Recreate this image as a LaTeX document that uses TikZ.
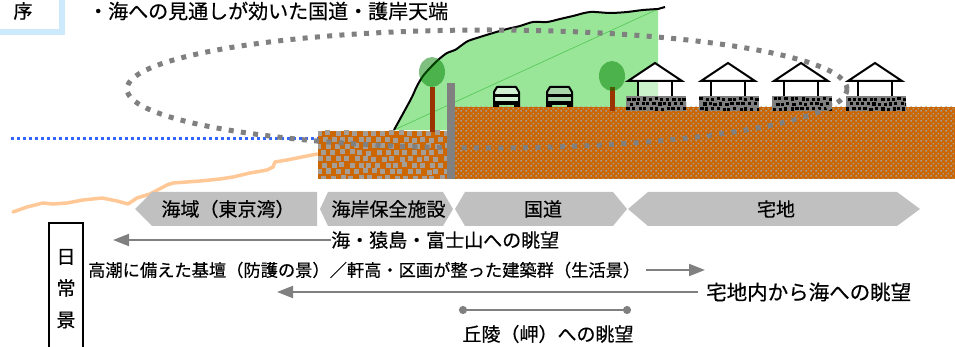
\documentclass[tikz,border=0pt]{standalone}
\usepackage{fontspec}
\setmainfont{Noto Sans CJK JP}
\newfontfamily\jpfont{Noto Sans CJK JP}[FakeBold=0.5]
\usepackage{tikz}
\usetikzlibrary{arrows.meta, positioning, patterns}
\usepackage{xcolor}
\definecolor{seablue}{RGB}{51, 102, 255}
\definecolor{shoreline}{RGB}{255, 200, 150}
\definecolor{soil}{RGB}{204, 102, 0}
\definecolor{cobble}{RGB}{165, 158, 150}
\definecolor{hillgreen}{RGB}{153, 230, 153}
\definecolor{hillline}{RGB}{90, 200, 90}
\definecolor{leafgreen}{RGB}{0, 127, 0}
\definecolor{trunkbrown}{RGB}{153, 51, 0}
\definecolor{wallgray}{RGB}{128, 128, 128}
\definecolor{stonegray}{RGB}{128, 128, 128}
\definecolor{bandgray}{RGB}{192, 192, 192}
\definecolor{frameblue}{RGB}{204, 234, 252}
\definecolor{carpale}{RGB}{210, 240, 210}
\definecolor{carshade}{RGB}{170, 212, 170}

% fine dots on the ground
\pgfdeclarepatternformonly{soildots}{\pgfqpoint{0pt}{0pt}}{\pgfqpoint{5pt}{5pt}}{\pgfqpoint{5pt}{5pt}}{
  \pgfpathrectangle{\pgfqpoint{0.5pt}{0.5pt}}{\pgfqpoint{1.6pt}{1.6pt}}
  \pgfpathrectangle{\pgfqpoint{3pt}{3pt}}{\pgfqpoint{1.6pt}{1.6pt}}
  \pgfusepath{fill}}

\begin{document}
\begin{tikzpicture}[x=1pt, y=-1pt,
    jtext/.style={font=\jpfont\fontsize{19}{19}\selectfont, inner sep=0pt},
    zoneband/.style={fill=bandgray},
    viewarrow/.style={draw=wallgray, line width=2pt, -{Triangle[length=16pt, width=12pt]}},
    viewloop/.style={draw=wallgray, line width=5pt, dash pattern=on 5pt off 7.3pt},
    ridge/.style={draw=black, line width=2pt, line join=round}]
    \useasboundingbox (0,0) rectangle (955,347);
    \clip (0,0) rectangle (955,347);

    % Heading
    \draw[frameblue, line width=6pt] (-10,-10) rectangle (62,32);
    \node[jtext] (jo) at (23,11) {序};
    \node[jtext, font=\jpfont\fontsize{20}{20}\selectfont, anchor=west] (title) at (88,11) {・海への見通しが効いた国道・護岸天端};

    % Sea level and sea bottom
    \draw[seablue, line width=3pt, dash pattern=on 3pt off 3pt] (11,139) -- (318,139);
    \draw[shoreline, line width=3.5pt, line join=round, line cap=round] plot coordinates {
        (13,212) (27,207) (43,203) (53,204) (67,203) (83,200) (102,198) (117,201) (128,204)
        (137,198) (150,194) (167,185) (173,183) (200,181) (220,179) (233,177) (250,173)
        (267,170) (273,167) (275,162) (287,160) (317,154)};

    % Hill
    \fill[hillgreen] (394,130) plot[smooth] coordinates {
        (394,130) (405,110) (412,97) (417,86) (423,76) (430,68) (438,60) (447,53) (455,50)
        (462,45) (468,41) (480,37) (493,33) (507,29) (520,26) (533,22) (547,22) (560,19)
        (573,16) (590,12) (610,13) (627,12) (643,10) (658,9)} -- (658,131) -- cycle;
    \draw[hillline, line width=0.7pt] (394,130) -- (658,9);
    \draw[ridge] plot[smooth] coordinates {
        (394,130) (405,110) (412,97) (417,86) (423,76) (430,68) (438,60) (447,53) (455,50)
        (462,45) (468,41) (480,37) (493,33) (507,29) (520,26) (533,22) (547,22) (560,19)
        (573,16) (590,12) (610,13) (627,12) (643,10) (658,9)} -- (665,7);

    % Sea wall
    \fill[soil] (318,131) rectangle (447,179);
    \begin{scope}
        \clip (318,131) rectangle (447,179);
        \pgfmathsetseed{5}
        \foreach \r in {0,...,7}{
            \foreach \c in {0,...,14}{
                \pgfmathsetmacro\sx{316+\c*9+mod(\r,2)*4.5+rnd*3}
                \pgfmathsetmacro\sy{130+\r*6.4+rnd*1.5}
                \fill[cobble] (\sx,\sy) rectangle ++(5,5);
            }
        }
    \end{scope}

    % Ground and parapet
    \fill[soil] (447,107) rectangle (955,179);
    \fill[pattern=soildots, pattern color=cobble] (447,107) rectangle (955,179);
    \fill[wallgray] (447,83) rectangle (455,179);

    % Cars
    \foreach \cx/\cc in {506.5/carpale, 559.5/carshade}{
        \filldraw[fill=\cc, line width=2pt, line join=round]
            (\cx-12.5,104) -- (\cx-12.5,92) -- (\cx-9.5,87) -- (\cx+9.5,87) -- (\cx+12.5,92) -- (\cx+12.5,104) -- cycle;
        \fill (\cx-12.5,94) rectangle (\cx+12.5,97);
        \fill (\cx-13.5,101) rectangle (\cx+13.5,104);
        \fill (\cx-13.5,104) rectangle (\cx-7.5,107) (\cx+7.5,104) rectangle (\cx+13.5,107);
    }

    % Trees
    \foreach \tx/\ty/\tb in {432/72/132, 612/76/111}{
        \fill[trunkbrown] (\tx-2.5,87) rectangle (\tx+2.5,\tb);
        \fill[leafgreen, fill opacity=0.5] (\tx,\ty) ellipse [x radius=13, y radius=15];
    }

    % Houses
    \pgfmathsetseed{11}
    \foreach \hx in {655,728,801,875}{
        \fill[stonegray] (\hx-29,96) rectangle (\hx+31,111);
        \begin{scope}
            \clip (\hx-29,96) rectangle (\hx+31,111);
            \foreach \r in {0,1,2}{
                \foreach \c in {0,...,10}{
                    \pgfmathsetmacro\sx{\hx-29+\c*5.6+mod(\r,2)*2.8+rnd*2}
                    \pgfmathsetmacro\sy{97+\r*4.8+rnd*1.2}
                    \fill (\sx,\sy) rectangle ++(3.2,3.2);
                }
            }
        \end{scope}
        \fill[white, fill opacity=0.5] (\hx-17,81) rectangle (\hx+17,96);
        \draw[line width=2pt] (\hx-17,81) -- (\hx-17,96) (\hx+17,81) -- (\hx+17,96);
        \draw[line width=2pt, fill=white, line join=miter] (\hx-27,81) -- (\hx,63) -- (\hx+27,81) -- cycle;
    }

    % View range
    \draw[viewloop] (487,89) ellipse [x radius=360, y radius=59];

    % Zones
    \foreach \n/\lt/\lc/\rc/\rt/\txt in {1/135/152/317/317/海域（東京湾）, 2/320/328/443/453/海岸保全施設,
                                        3/455/465/613/627/国道, 4/628/648/897/920/宅地}{
        \fill[zoneband] (\lt,209) -- (\lc,192) -- (\rc,192) -- (\rt,209) -- (\rc,226) -- (\lc,226) -- cycle;
        \node[jtext] (zone\n) at ({(\lt+\rt)/2+2},209) {\txt};
    }

    % Everyday views
    \draw[line width=1.5pt] (49,223) rectangle (83,355);
    \node[jtext] (ni) at (66,257) {日};
    \node[jtext] (jou) at (66,288) {常};
    \node[jtext] (kei) at (66,320) {景};

    \node[jtext, anchor=west] (viewsea) at (331,240) {海・猿島・富士山への眺望};
    \coordinate (viewseaend) at (113,240);
    \draw[viewarrow] (viewsea.west) -- (viewseaend);

    \node[jtext, font=\jpfont\fontsize{17.25}{17.25}\selectfont, anchor=west] (viewlife) at (88,270)
        {高潮に備えた基壇（防護の景）／軒高・区画が整った建築群（生活景）};
    \coordinate (viewlifeend) at (705,270);
    \draw[viewarrow] ([xshift=6pt]viewlife.east) -- (viewlifeend);

    \node[jtext, font=\jpfont\fontsize{20.5}{20.5}\selectfont, anchor=west] (viewhome) at (706,292) {宅地内から海への眺望};
    \coordinate (viewhomeend) at (277,292);
    \draw[viewarrow] ([xshift=-8pt]viewhome.west) -- (viewhomeend);

    \coordinate (hillA) at (459,310);
    \coordinate (hillB) at (631,310);
    \draw[wallgray, line width=2pt, {Circle[length=8pt]}-{Circle[length=8pt]}] (hillA) -- (hillB);
    \node[jtext] (viewhill) at (548,334) {丘陵（岬）への眺望};
\end{tikzpicture}
\end{document}
